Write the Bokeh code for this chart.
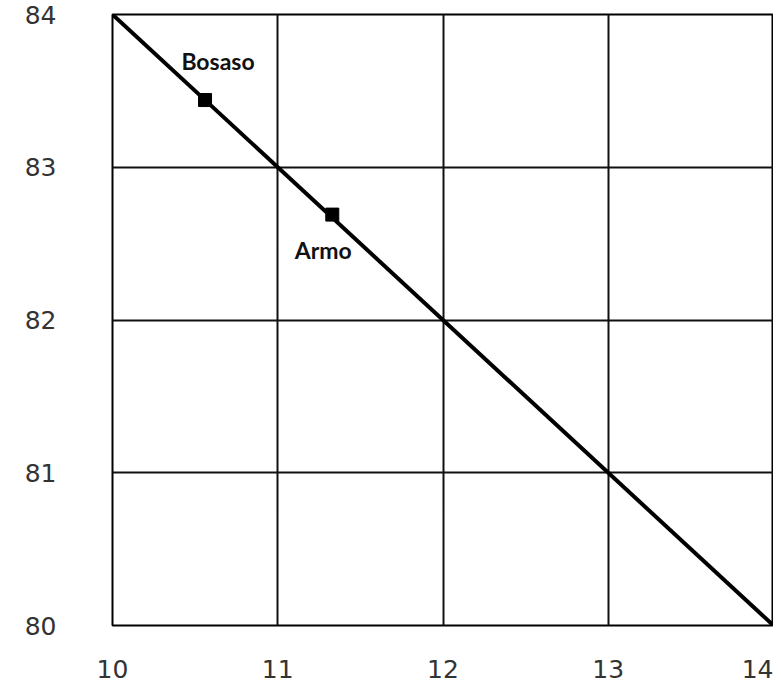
from bokeh.plotting import figure
from bokeh.models import Range1d, FixedTicker
from bokeh.core.properties import value
from bokeh.embed import file_html
from bokeh.resources import INLINE

# data
line_x = [10, 14]
line_y = [84, 80]
town_names = ["Bosaso", "Armo"]
town_x = [10.56, 11.33]
town_y = [83.44, 82.69]
x_ticks = [10, 11, 12, 13, 14]
y_ticks = [80, 81, 82, 83, 84]

p = figure(width=773, height=689, output_backend="svg", toolbar_location=None,
           x_range=Range1d(10, 14), y_range=Range1d(80, 84),
           min_border_left=112, min_border_right=0, min_border_top=14, min_border_bottom=64)
p.background_fill_color = "white"
p.border_fill_color = "white"
p.outline_line_color = "black"
p.outline_line_width = 2

for ax in (p.xaxis, p.yaxis):
    ax.axis_line_color = None
    ax.major_tick_line_color = None
    ax.minor_tick_line_color = None
    ax.major_label_text_font = "DejaVu Sans"
    ax.major_label_text_font_size = "25px"
    ax.major_label_text_color = "#333333"
p.xaxis.ticker = FixedTicker(ticks=x_ticks)
p.yaxis.ticker = FixedTicker(ticks=y_ticks)
p.xaxis.major_label_standoff = 28
p.yaxis.major_label_standoff = 50

p.xgrid.ticker = FixedTicker(ticks=x_ticks)
p.ygrid.ticker = FixedTicker(ticks=y_ticks)
for g in (p.xgrid, p.ygrid):
    g.grid_line_color = "#111111"
    g.grid_line_width = 2
    g.grid_line_alpha = 1

p.line(line_x, line_y, line_color="black", line_width=4)
p.scatter(town_x, town_y, marker="square", size=13, color="black")

p.text([town_x[0]], [town_y[0]], text=[town_names[0]], x_offset=13, y_offset=-39,
       text_align="center", text_baseline="middle", text_font=value("Lato"),
       text_font_style="bold", text_font_size="23px", text_color="#111111")
p.text([town_x[1]], [town_y[1]], text=[town_names[1]], x_offset=-9, y_offset=35,
       text_align="center", text_baseline="middle", text_font=value("Lato"),
       text_font_style="bold", text_font_size="23px", text_color="#111111")

open("out.html", "w").write(file_html(p, INLINE))
